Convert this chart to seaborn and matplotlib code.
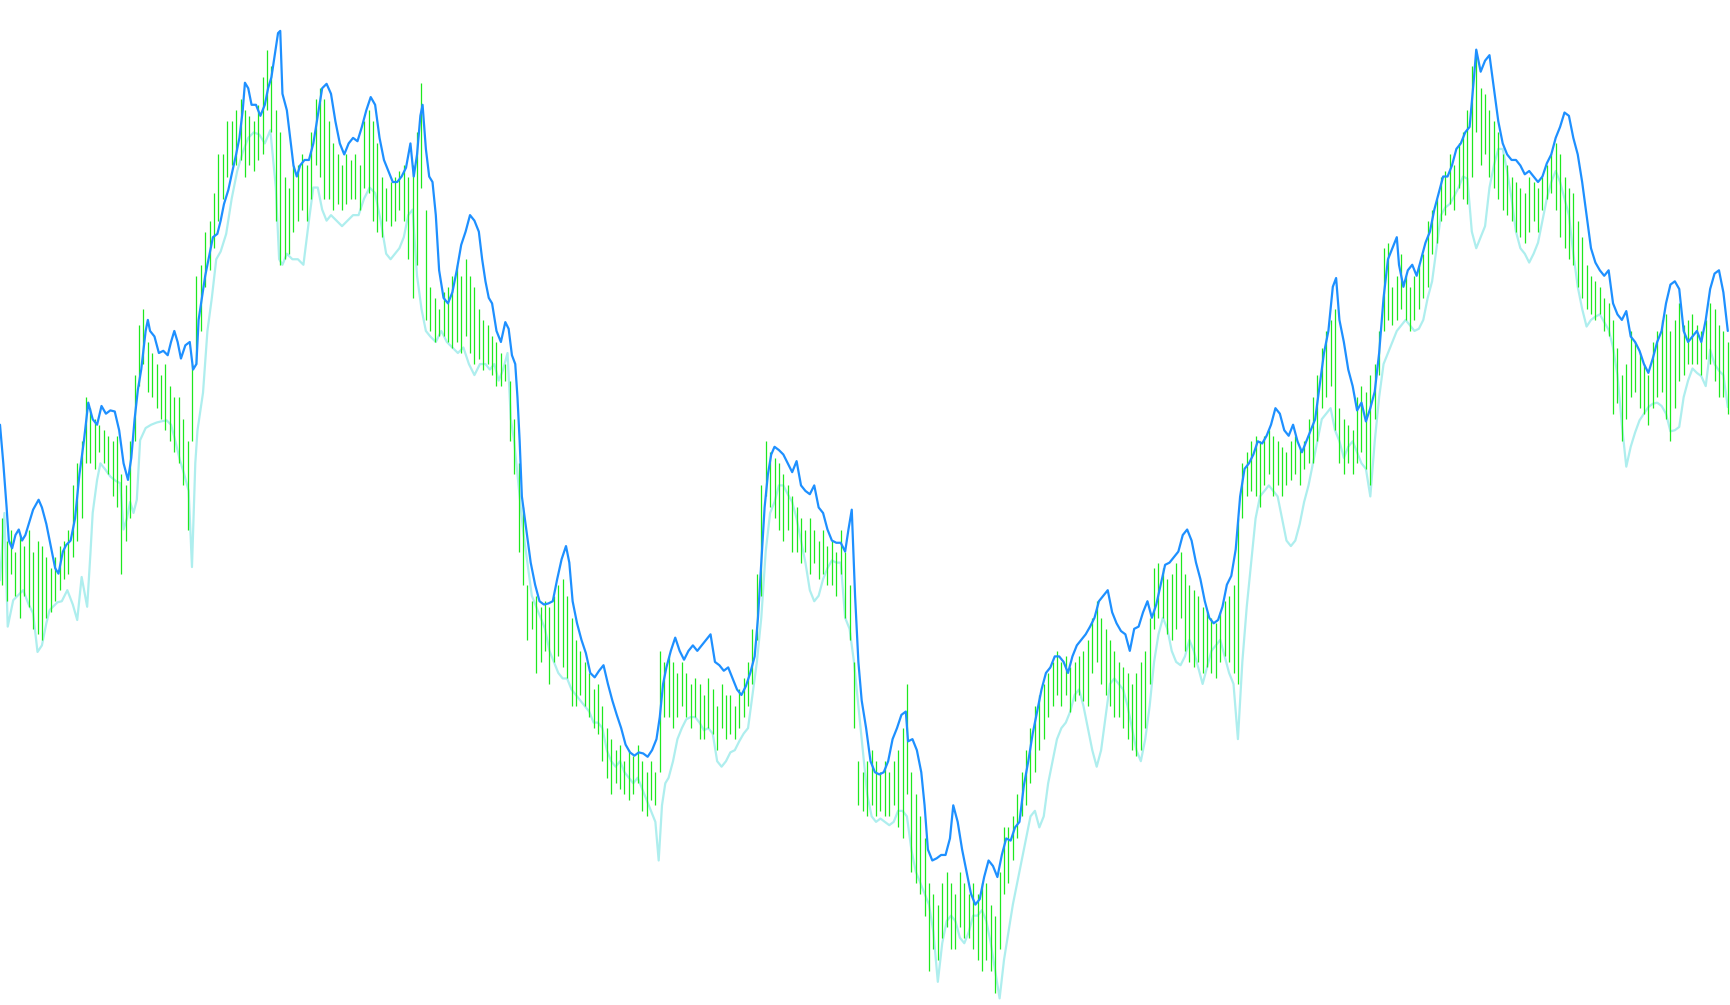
import numpy as np
import matplotlib
matplotlib.use("Agg")
from matplotlib import pyplot as plt
import seaborn as sns

sns.set_theme(style="white")

blue_t = [0, 3, 6, 8, 11, 14, 17, 20, 23, 26,
          30, 35, 38, 42, 46, 50, 53, 57, 60, 64,
          68, 72, 76, 80, 84, 88, 92, 96, 100, 104,
          108, 112, 116, 119, 122, 125, 128, 132, 134, 136,
          140, 144, 148, 152, 155, 158, 161, 164, 168, 172,
          175, 178, 180, 183, 186, 190, 193, 197, 200, 203,
          207, 210, 214, 217, 220, 222, 225, 228, 232, 236,
          240, 243, 246, 249, 252, 254, 256, 260, 263, 266,
          269, 272, 276, 280, 284, 288, 292, 296, 300, 304,
          308, 312, 316, 320, 324, 328, 332, 336, 340, 344,
          348, 352, 356, 360, 364, 368, 372, 375, 378, 381,
          383, 386, 389, 392, 395, 398, 402, 406, 410, 414,
          418, 422, 426, 430, 434, 437, 440, 443, 446, 450,
          454, 458, 461, 464, 467, 469, 471, 473, 477, 481,
          485, 489, 493, 497, 501, 505, 509, 513, 516, 519,
          523, 527, 531, 535, 539, 543, 547, 551, 555, 559,
          563, 567, 571, 575, 579, 583, 587, 591, 595, 598,
          601, 604, 608, 612, 616, 620, 624, 628, 632, 636,
          640, 644, 648, 652, 656, 660, 664, 668, 672, 676,
          680, 684, 687, 690, 693, 696, 699, 702, 706, 710,
          714, 718, 722, 726, 730, 734, 738, 742, 746, 750,
          754, 758, 762, 766, 769, 772, 775, 778, 781, 785,
          789, 793, 797, 801, 805, 809, 813, 817, 821, 823,
          827, 831, 835, 838, 841, 845, 849, 853, 857, 861,
          864, 868, 872, 876, 880, 884, 888, 892, 896, 900,
          904, 908, 912, 916, 920, 924, 928, 932, 936, 940,
          944, 948, 952, 956, 960, 964, 968, 972, 976, 980,
          984, 988, 992, 996, 1000, 1004, 1008, 1012, 1016, 1020,
          1024, 1028, 1032, 1036, 1040, 1044, 1048, 1052, 1056, 1060,
          1064, 1068, 1072, 1076, 1080, 1084, 1088, 1092, 1096, 1100,
          1104, 1108, 1112, 1116, 1120, 1124, 1128, 1132, 1136, 1140,
          1144, 1148, 1152, 1156, 1160, 1164, 1168, 1172, 1176, 1180,
          1184, 1188, 1192, 1196, 1200, 1204, 1208, 1211, 1214, 1218,
          1222, 1226, 1230, 1234, 1238, 1242, 1246, 1250, 1254, 1258,
          1262, 1266, 1268, 1272, 1276, 1280, 1284, 1288, 1292, 1296,
          1300, 1304, 1308, 1312, 1316, 1320, 1324, 1328, 1332, 1336,
          1338, 1342, 1346, 1350, 1354, 1358, 1362, 1366, 1370, 1374,
          1378, 1382, 1386, 1390, 1394, 1398, 1402, 1406, 1410, 1414,
          1418, 1422, 1426, 1430, 1434, 1438, 1442, 1446, 1450, 1454,
          1458, 1462, 1466, 1470, 1474, 1478, 1482, 1486, 1490, 1494,
          1498, 1502, 1506, 1510, 1514, 1518, 1522, 1526, 1530, 1534,
          1538, 1542, 1546, 1550, 1554, 1558, 1562, 1566]
blue_y = [385, 420, 460, 490, 497, 485, 480, 490, 485, 475,
          462, 453, 460, 475, 495, 515, 520, 500, 494, 490,
          470, 430, 400, 365, 380, 385, 368, 375, 372, 373,
          390, 420, 435, 415, 380, 353, 335, 300, 290, 300,
          305, 320, 318, 322, 310, 300, 310, 325, 313, 310,
          335, 330, 290, 270, 250, 230, 215, 212, 200, 185,
          172, 158, 140, 125, 100, 75, 80, 95, 95, 105,
          95, 80, 70, 50, 30, 28, 85, 100, 125, 150,
          160, 150, 145, 145, 130, 105, 80, 76, 85, 110,
          130, 140, 130, 125, 128, 115, 100, 88, 95, 125,
          145, 155, 165, 165, 160, 152, 130, 160, 140, 105,
          95, 135, 160, 165, 195, 245, 270, 275, 265, 245,
          222, 210, 195, 200, 210, 235, 255, 270, 275, 300,
          310, 292, 298, 322, 330, 360, 400, 450, 480, 510,
          530, 545, 548, 547, 545, 525, 507, 495, 510, 545,
          565, 580, 592, 610, 614, 608, 603, 620, 635, 648,
          660, 675, 682, 685, 682, 683, 686, 680, 670, 650,
          620, 605, 590, 578, 590, 598, 590, 585, 590, 585,
          580, 575, 600, 603, 608, 605, 615, 625, 630, 622,
          610, 595, 560, 510, 460, 430, 412, 405, 408, 412,
          420, 428, 418, 440, 445, 448, 440, 460, 465, 480,
          490, 492, 492, 500, 480, 462, 540, 600, 635, 660,
          690, 700, 702, 700, 690, 670, 660, 648, 645, 672,
          670, 680, 700, 730, 770, 780, 778, 775, 775, 760,
          730, 745, 770, 790, 810, 820, 815, 795, 780, 785,
          795, 775, 760, 762, 750, 745, 712, 690, 665, 645,
          625, 610, 605, 595, 595, 600, 610, 595, 585, 580,
          575, 568, 560, 545, 540, 535, 555, 565, 572, 575,
          590, 570, 568, 555, 545, 560, 548, 530, 512, 510,
          505, 500, 485, 480, 490, 510, 525, 545, 560, 565,
          562, 550, 530, 522, 498, 450, 425, 420, 412, 400,
          402, 395, 385, 370, 375, 390, 395, 385, 400, 410,
          400, 390, 380, 350, 320, 300, 260, 252, 290, 310,
          335, 350, 372, 365, 382, 370, 355, 320, 270, 235,
          225, 215, 240, 260, 245, 240, 250, 235, 220, 210,
          190, 175, 160, 160, 150, 135, 130, 120, 115, 70,
          45, 65, 55, 50, 80, 110, 130, 140, 145, 145,
          150, 158, 155, 160, 165, 160, 148, 140, 125, 115,
          102, 105, 125, 140, 165, 195, 225, 238, 245, 250,
          245, 275, 285, 290, 282, 305, 310, 318, 330, 338,
          325, 310, 300, 275, 258, 255, 262, 300, 310, 305,
          300, 310, 290, 262, 248, 245, 265, 300]

cyan_t = [0, 4, 7, 12, 16, 21, 26, 30, 34, 38,
          42, 45, 52, 56, 61, 66, 70, 74, 79, 82,
          84, 88, 91, 95, 100, 105, 109, 112, 115, 118,
          121, 124, 127, 132, 137, 142, 146, 151, 155, 159,
          163, 167, 171, 174, 177, 179, 184, 188, 192, 196,
          200, 205, 210, 215, 220, 225, 230, 235, 240, 245,
          250, 253, 256, 260, 265, 270, 275, 280, 284, 288,
          292, 296, 300, 305, 310, 315, 320, 325, 330, 335,
          340, 345, 350, 354, 358, 362, 366, 370, 374, 378,
          382, 386, 390, 395, 400, 405, 410, 415, 420, 425,
          430, 435, 440, 444, 448, 452, 456, 460, 463, 466,
          470, 474, 478, 482, 486, 490, 494, 498, 502, 506,
          510, 514, 518, 522, 526, 530, 534, 538, 542, 546,
          550, 554, 558, 562, 566, 570, 574, 578, 582, 586,
          590, 594, 597, 600, 603, 606, 610, 614, 618, 622,
          626, 630, 634, 638, 642, 646, 650, 654, 658, 662,
          666, 670, 674, 678, 682, 686, 690, 694, 698, 702,
          706, 710, 714, 718, 722, 726, 730, 734, 738, 742,
          746, 750, 754, 758, 762, 766, 770, 774, 778, 782,
          786, 790, 794, 798, 802, 806, 810, 814, 818, 822,
          826, 830, 834, 838, 842, 846, 850, 854, 858, 862,
          866, 870, 874, 878, 882, 886, 890, 894, 898, 902,
          906, 910, 914, 918, 922, 926, 930, 934, 938, 942,
          946, 950, 954, 958, 962, 966, 970, 974, 978, 982,
          986, 990, 994, 998, 1002, 1006, 1010, 1014, 1018, 1022,
          1026, 1030, 1034, 1038, 1042, 1046, 1050, 1054, 1058, 1062,
          1066, 1070, 1074, 1078, 1082, 1086, 1090, 1094, 1098, 1102,
          1106, 1110, 1114, 1118, 1122, 1126, 1130, 1134, 1138, 1142,
          1146, 1150, 1154, 1158, 1162, 1166, 1170, 1174, 1178, 1182,
          1186, 1190, 1194, 1198, 1202, 1206, 1210, 1214, 1218, 1222,
          1226, 1230, 1234, 1238, 1242, 1246, 1250, 1254, 1258, 1262,
          1266, 1270, 1274, 1278, 1282, 1286, 1290, 1294, 1298, 1302,
          1306, 1310, 1314, 1318, 1322, 1326, 1330, 1334, 1338, 1342,
          1346, 1350, 1354, 1358, 1362, 1366, 1370, 1374, 1378, 1382,
          1386, 1390, 1394, 1398, 1402, 1406, 1410, 1414, 1418, 1422,
          1426, 1430, 1434, 1438, 1442, 1446, 1450, 1454, 1458, 1462,
          1466, 1470, 1474, 1478, 1482, 1486, 1490, 1494, 1498, 1502,
          1506, 1510, 1514, 1518, 1522, 1526, 1530, 1534, 1538, 1542,
          1546, 1550, 1554, 1558, 1562, 1566]
cyan_y = [526, 465, 568, 544, 540, 535, 548, 556, 591, 585,
          565, 553, 546, 545, 535, 548, 562, 523, 550, 501,
          465, 435, 420, 425, 432, 436, 438, 480, 470, 455,
          465, 453, 399, 388, 385, 383, 382, 381, 385, 400,
          417, 430, 445, 514, 420, 390, 356, 300, 270, 235,
          228, 212, 180, 155, 138, 125, 120, 122, 130, 118,
          170, 235, 240, 230, 235, 235, 240, 200, 170, 170,
          190, 200, 195, 200, 205, 200, 195, 195, 180, 170,
          175, 200, 230, 235, 230, 225, 215, 195, 190, 250,
          280, 300, 305, 310, 300, 310, 315, 320, 315, 330,
          340, 330, 330, 335, 330, 345, 335, 320, 380, 400,
          440, 480, 510, 540, 550, 560, 570, 590, 600, 610,
          615, 615, 625, 630, 635, 640, 645, 655, 655, 660,
          680, 690, 695, 690, 700, 705, 710, 705, 715, 725,
          735, 745, 780, 730, 710, 705, 690, 670, 660, 652,
          650, 650, 655, 662, 660, 665, 690, 695, 690, 682,
          680, 672, 665, 660, 630, 600, 560, 500, 465, 455,
          440, 440, 448, 455, 470, 490, 510, 535, 545, 540,
          525, 515, 508, 510, 510, 560, 570, 600, 640, 680,
          720, 740, 745, 742, 745, 748, 745, 735, 735, 740,
          770, 790, 800, 810, 820, 845, 890, 855, 835, 830,
          835, 850, 855, 845, 830, 830, 825, 835, 855, 880,
          905, 870, 845, 820, 800, 780, 760, 740, 735, 750,
          740, 710, 690, 670, 660, 655, 645, 630, 625, 640,
          660, 680, 695, 680, 650, 620, 615, 620, 625, 640,
          660, 680, 690, 670, 640, 600, 575, 560, 570, 590,
          600, 603, 595, 580, 590, 605, 620, 605, 590, 585,
          580, 595, 610, 620, 670, 600, 550, 510, 470, 450,
          445, 440, 445, 450, 470, 490, 495, 490, 475, 455,
          440, 420, 400, 380, 375, 370, 390, 400, 415, 405,
          400, 410, 420, 425, 450, 400, 360, 330, 320, 310,
          300, 295, 290, 295, 300, 298, 290, 270, 255, 225,
          195, 188, 185, 178, 170, 160, 162, 210, 225, 215,
          205, 170, 150, 135, 135, 155, 180, 210, 225, 230,
          238, 230, 220, 200, 180, 165, 155, 165, 180, 195,
          230, 260, 280, 296, 290, 287, 285, 292, 299, 315,
          340, 385, 423, 405, 392, 381, 375, 369, 366, 365,
          368, 375, 391, 390, 387, 360, 345, 334, 338, 341,
          350, 317, 330, 336, 340, 369]

# High / low of each price bar, one bar every 4 units starting at t = 2
bar_high = [470, 490, 480, 500, 485, 495, 480, 500, 490, 495,
            505, 515, 505, 495, 490, 480, 440, 420, 400, 360,
            370, 380, 385, 390, 395, 400, 395, 430, 440, 400,
            340, 295, 280, 310, 320, 330, 340, 330, 350, 360,
            360, 380, 400, 330, 250, 240, 210, 200, 175, 140,
            140, 110, 110, 100, 90, 100, 105, 110, 95, 70,
            45, 60, 100, 120, 160, 170, 150, 150, 140, 150,
            120, 90, 80, 90, 110, 130, 140, 150, 140, 145,
            140, 150, 110, 100, 110, 130, 160, 170, 165, 160,
            155, 150, 160, 150, 120, 75, 190, 260, 270, 280,
            265, 260, 250, 240, 250, 235, 250, 260, 280, 290,
            295, 305, 310, 320, 330, 345, 380, 420, 460, 530,
            545, 540, 550, 545, 550, 540, 530, 525, 540, 560,
            580, 590, 600, 610, 625, 620, 640, 660, 670, 680,
            675, 690, 680, 685, 675, 690, 700, 690, 700, 590,
            600, 595, 600, 610, 600, 610, 620, 615, 620, 630,
            615, 625, 640, 620, 630, 630, 640, 625, 615, 600,
            570, 520, 440, 400, 410, 415, 420, 430, 440, 450,
            460, 470, 480, 470, 480, 490, 480, 495, 490, 500,
            480, 500, 530, 600, 690, 700, 690, 680, 690, 700,
            690, 700, 690, 680, 660, 620, 700, 720, 740, 760,
            800, 810, 820, 800, 790, 800, 810, 790, 800, 810,
            800, 810, 800, 800, 820, 830, 790, 750, 750, 740,
            720, 700, 680, 660, 640, 630, 620, 610, 600, 590,
            600, 595, 605, 600, 595, 590, 580, 560, 545, 560,
            570, 580, 590, 600, 605, 610, 620, 610, 600, 590,
            560, 515, 510, 515, 525, 520, 510, 500, 520, 530,
            535, 540, 550, 555, 560, 565, 555, 545, 540, 530,
            470, 420, 410, 400, 395, 400, 395, 390, 395, 400,
            405, 410, 400, 395, 405, 400, 380, 360, 340, 315,
            300, 290, 280, 370, 380, 385, 390, 360, 350, 355,
            340, 330, 300, 225, 220, 260, 250, 230, 250, 260,
            250, 240, 230, 200, 190, 180, 160, 155, 140, 150,
            130, 120, 100, 60, 45, 80, 85, 100, 110, 120,
            140, 150, 160, 165, 170, 175, 160, 165, 170, 160,
            150, 140, 130, 140, 160, 170, 175, 200, 215, 240,
            250, 255, 260, 270, 275, 290, 315, 340, 330, 300,
            310, 320, 330, 340, 310, 300, 290, 285, 300, 290,
            275, 295, 290, 285, 295, 300, 290, 275, 280, 295,
            300, 310]
bar_low = [530, 545, 520, 540, 560, 540, 550, 570, 575, 580,
           560, 555, 545, 535, 525, 520, 505, 490, 470, 420,
           420, 425, 410, 420, 430, 450, 460, 520, 490, 470,
           400, 350, 330, 355, 360, 370, 380, 390, 400, 410,
           420, 440, 480, 400, 330, 300, 260, 245, 225, 200,
           180, 160, 150, 150, 145, 160, 150, 155, 145, 140,
           100, 120, 200, 240, 235, 230, 210, 200, 190, 200,
           180, 150, 160, 180, 180, 190, 185, 190, 185, 180,
           180, 190, 170, 175, 200, 210, 215, 200, 205, 200,
           190, 200, 235, 270, 240, 170, 290, 300, 310, 305,
           305, 310, 315, 310, 320, 305, 320, 330, 325, 335,
           330, 340, 350, 350, 345, 400, 430, 500, 530, 580,
           570, 610, 600, 590, 620, 600, 595, 605, 615, 640,
           640, 630, 640, 650, 660, 665, 690, 705, 720, 710,
           715, 720, 725, 720, 710, 735, 740, 725, 730, 700,
           650, 650, 660, 650, 640, 650, 660, 650, 670, 670,
           660, 665, 680, 660, 670, 665, 670, 660, 650, 640,
           620, 580, 540, 450, 460, 470, 480, 490, 480, 500,
           500, 510, 500, 520, 510, 525, 520, 530, 530, 540,
           520, 560, 580, 660, 730, 735, 740, 730, 740, 735,
           740, 740, 730, 750, 760, 720, 790, 800, 810, 830,
           880, 860, 870, 850, 840, 860, 860, 840, 850, 850,
           860, 870, 880, 870, 880, 900, 860, 810, 800, 780,
           760, 740, 730, 710, 700, 680, 670, 650, 640, 630,
           640, 630, 645, 635, 630, 635, 640, 610, 600, 620,
           630, 640, 650, 650, 660, 670, 680, 685, 680, 660,
           620, 570, 560, 560, 575, 580, 570, 560, 590, 600,
           605, 600, 610, 605, 610, 615, 600, 595, 600, 610,
           620, 470, 450, 445, 450, 460, 440, 430, 450, 440,
           450, 440, 435, 430, 440, 425, 420, 420, 400, 370,
           360, 350, 390, 420, 430, 420, 430, 420, 410, 425,
           440, 380, 340, 300, 290, 295, 290, 280, 290, 300,
           290, 280, 270, 260, 230, 220, 200, 195, 185, 190,
           170, 180, 185, 160, 120, 150, 140, 160, 170, 180,
           190, 195, 200, 210, 215, 220, 210, 200, 210, 190,
           180, 175, 190, 215, 225, 235, 240, 260, 270, 280,
           285, 290, 285, 300, 305, 375, 365, 400, 380, 360,
           355, 370, 375, 385, 370, 360, 355, 380, 400, 370,
           345, 340, 330, 330, 330, 340, 325, 330, 345, 360,
           360, 375]

bar_t = 2 + 4 * np.arange(len(bar_high))

fig, ax = plt.subplots(figsize=(17.3, 10.05), dpi=100)
fig.subplots_adjust(left=0, right=1, bottom=0, top=1)

# lower band underneath, then the bars, then the upper band on top
sns.lineplot(x=cyan_t, y=cyan_y, sort=False, estimator=None,
             color="#aeeeee", linewidth=1.6, ax=ax, zorder=1)
ax.vlines(bar_t, bar_high, bar_low, colors="#1ee81e", linewidth=0.9, zorder=2)
sns.lineplot(x=blue_t, y=blue_y, sort=False, estimator=None,
             color="#1e90ff", linewidth=1.6, ax=ax, zorder=3)

ax.set_xlim(0, 1568)
ax.set_ylim(911, 0)
ax.set_axis_off()

fig.savefig("out.png", dpi=100, facecolor="white")
